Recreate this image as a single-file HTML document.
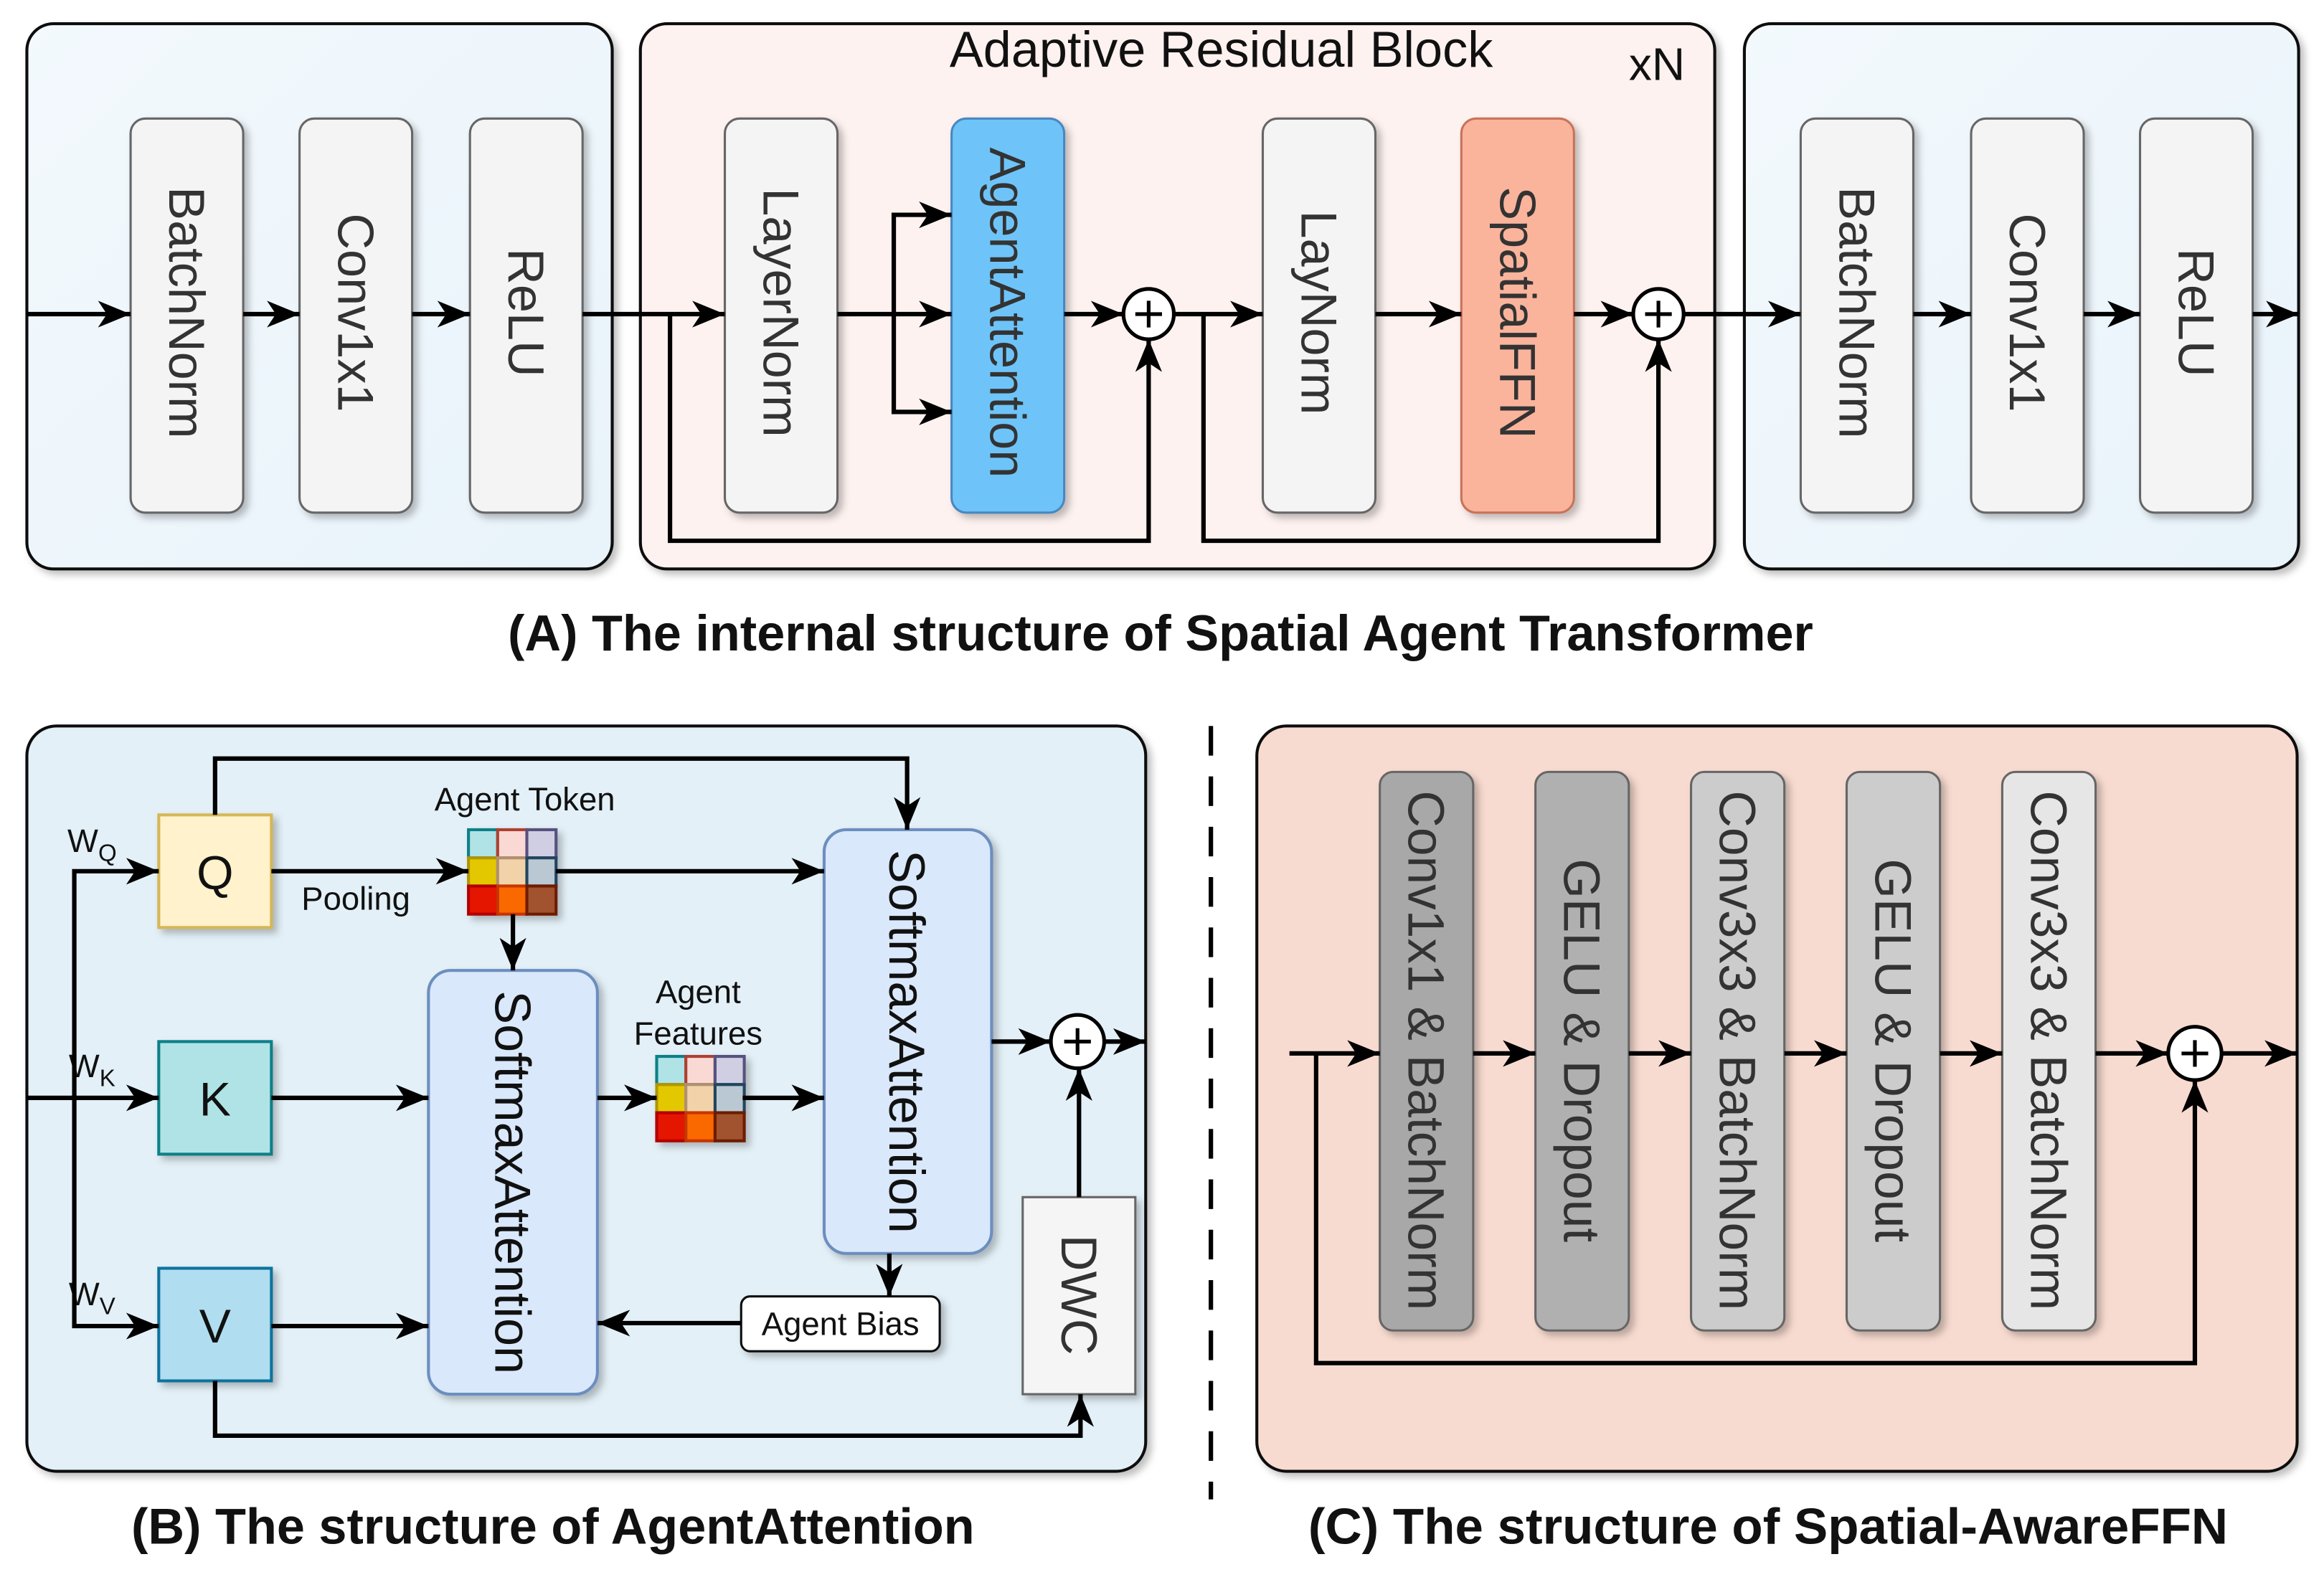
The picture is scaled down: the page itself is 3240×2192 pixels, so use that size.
<!DOCTYPE html>
<html><head><meta charset="utf-8"><style>
html,body{margin:0;padding:0;background:#fff}
svg{display:block}
text{font-family:"Liberation Sans",Arial,sans-serif}
</style></head><body>
<svg width="3240" height="2192" viewBox="0 0 1568 1061" xmlns="http://www.w3.org/2000/svg">
<defs>
<marker id="ar" markerWidth="24" markerHeight="20" refX="22" refY="10" orient="auto" markerUnits="userSpaceOnUse">
<path d="M0,1 L22,10 L0,19 L6,10 Z" fill="#000"/>
</marker>
<linearGradient id="gb" x1="0" y1="0" x2="1" y2="1"><stop offset="0" stop-color="#f3f9fd"/><stop offset="1" stop-color="#e8f3fa"/></linearGradient>
<filter id="sh" x="-20%" y="-20%" width="150%" height="150%"><feDropShadow dx="3" dy="3" stdDeviation="2.5" flood-color="#000" flood-opacity="0.25"/></filter>
</defs>
<g fill="none" stroke="#000" stroke-width="3">
<rect x="18" y="16" width="395" height="368" rx="18" fill="url(#gb)" stroke="#111" stroke-width="2" filter="url(#sh)"/>
<rect x="432" y="16" width="725" height="368" rx="18" fill="#fdf2ef" stroke="#111" stroke-width="2" filter="url(#sh)"/>
<rect x="1177" y="16" width="374" height="368" rx="18" fill="url(#gb)" stroke="#111" stroke-width="2" filter="url(#sh)"/>
<rect x="18" y="490" width="755" height="503" rx="20" fill="#e3f0f7" stroke="#111" stroke-width="2" filter="url(#sh)"/>
<rect x="848" y="490" width="702" height="503" rx="20" fill="#f8dbd0" stroke="#111" stroke-width="2" filter="url(#sh)"/>
<line x1="817" y1="490" x2="817" y2="1012" stroke-dasharray="20,14"/>
</g>
<g stroke="#666" stroke-width="1.5" filter="url(#sh)">
<rect x="88" y="80" width="76" height="266" rx="10" fill="#f4f4f4"/>
<rect x="202" y="80" width="76" height="266" rx="10" fill="#f4f4f4"/>
<rect x="317" y="80" width="76" height="266" rx="10" fill="#f4f4f4"/>
<rect x="489" y="80" width="76" height="266" rx="10" fill="#f4f4f4"/>
<rect x="642" y="80" width="76" height="266" rx="10" fill="#6ec4f8" stroke="#4a87c0"/>
<rect x="852" y="80" width="76" height="266" rx="10" fill="#f4f4f4"/>
<rect x="986" y="80" width="76" height="266" rx="10" fill="#fab49c" stroke="#c9725a"/>
<rect x="1215" y="80" width="76" height="266" rx="10" fill="#f4f4f4"/>
<rect x="1330" y="80" width="76" height="266" rx="10" fill="#f4f4f4"/>
<rect x="1444" y="80" width="76" height="266" rx="10" fill="#f4f4f4"/>
</g>
<g font-size="34" fill="#333" text-anchor="middle" dominant-baseline="central">
<text transform="translate(126,211) rotate(90)">BatchNorm</text>
<text transform="translate(240,211) rotate(90)">Conv1x1</text>
<text transform="translate(355,211) rotate(90)">ReLU</text>
<text transform="translate(527,211) rotate(90)">LayerNorm</text>
<text transform="translate(680,211) rotate(90)">AgentAttention</text>
<text transform="translate(890,211) rotate(90)">LayNorm</text>
<text transform="translate(1024,211) rotate(90)">SpatialFFN</text>
<text transform="translate(1253,211) rotate(90)">BatchNorm</text>
<text transform="translate(1368,211) rotate(90)">Conv1x1</text>
<text transform="translate(1482,211) rotate(90)">ReLU</text>
</g>
<text x="824" y="45" font-size="34" text-anchor="middle" fill="#111">Adaptive Residual Block</text>
<text x="1118" y="54" font-size="31" text-anchor="middle" fill="#111">xN</text>
<g fill="none" stroke="#000" stroke-width="3">
<line x1="18" y1="212" x2="88" y2="212" marker-end="url(#ar)"/>
<line x1="164" y1="212" x2="202" y2="212" marker-end="url(#ar)"/>
<line x1="278" y1="212" x2="317" y2="212" marker-end="url(#ar)"/>
<line x1="393" y1="212" x2="489" y2="212" marker-end="url(#ar)"/>
<line x1="565" y1="212" x2="642" y2="212" marker-end="url(#ar)"/>
<polyline points="603,212 603,145 642,145" marker-end="url(#ar)"/>
<polyline points="603,212 603,278 642,278" marker-end="url(#ar)"/>
<line x1="718" y1="212" x2="758" y2="212" marker-end="url(#ar)"/>
<line x1="792" y1="212" x2="852" y2="212" marker-end="url(#ar)"/>
<line x1="928" y1="212" x2="986" y2="212" marker-end="url(#ar)"/>
<line x1="1062" y1="212" x2="1102" y2="212" marker-end="url(#ar)"/>
<line x1="1136" y1="212" x2="1215" y2="212" marker-end="url(#ar)"/>
<line x1="1291" y1="212" x2="1330" y2="212" marker-end="url(#ar)"/>
<line x1="1406" y1="212" x2="1444" y2="212" marker-end="url(#ar)"/>
<line x1="1520" y1="212" x2="1551" y2="212" marker-end="url(#ar)"/>
<polyline points="452,212 452,365 775,365 775,229" marker-end="url(#ar)"/>
<polyline points="812,212 812,365 1119,365 1119,229" marker-end="url(#ar)"/>
</g>
<g stroke="#000" stroke-width="2.5" fill="#fff">
<circle cx="775" cy="212" r="17"/><circle cx="1119" cy="212" r="17"/>
<circle cx="727" cy="703" r="18"/><circle cx="1481" cy="711" r="18"/>
</g>
<g stroke="#000" stroke-width="2.5">
<path d="M766,212h18M775,203v18M1110,212h18M1119,203v18M718,703h18M727,694v18M1472,711h18M1481,702v18"/>
</g>
<text x="783" y="439" font-size="34" font-weight="bold" text-anchor="middle" fill="#111">(A) The internal structure of Spatial Agent Transformer</text>
<g filter="url(#sh)">
<rect x="107" y="550" width="76" height="76" fill="#fff2cc" stroke="#d6b656" stroke-width="2"/>
<rect x="107" y="703" width="76" height="76" fill="#b0e3e6" stroke="#0e8088" stroke-width="2"/>
<rect x="107" y="856" width="76" height="76" fill="#b1ddf0" stroke="#10739e" stroke-width="2"/>
<rect x="556" y="560" width="113" height="286" rx="15" fill="#dae8fc" stroke="#6c8ebf" stroke-width="2"/>
<rect x="289" y="655" width="114" height="286" rx="15" fill="#dae8fc" stroke="#6c8ebf" stroke-width="2"/>
<rect x="690" y="808" width="76" height="133" fill="#f5f5f5" stroke="#666" stroke-width="1.5"/>
<rect x="500" y="875" width="134" height="37" rx="6" fill="#fff" stroke="#111" stroke-width="1.5"/>
</g>
<g font-size="32" text-anchor="middle" fill="#111">
<text x="145" y="600">Q</text><text x="145" y="753">K</text><text x="145" y="906">V</text>
</g>
<g font-size="34" fill="#111" text-anchor="middle" dominant-baseline="central">
<text transform="translate(612,703) rotate(90)">SoftmaxAttention</text>
<text transform="translate(346,798) rotate(90)">SoftmaxAttention</text>
<text transform="translate(728,874) rotate(90)" fill="#333">DWC</text>
</g>
<g font-size="22" fill="#111" text-anchor="middle">
<text x="567" y="901">Agent Bias</text>
<text x="354" y="547">Agent Token</text>
<text x="240" y="614">Pooling</text>
<text x="471" y="677">Agent</text>
<text x="471" y="705">Features</text>
<text x="62" y="575">W<tspan font-size="16" dy="6">Q</tspan></text>
<text x="62" y="727">W<tspan font-size="16" dy="6">K</tspan></text>
<text x="62" y="881">W<tspan font-size="16" dy="6">V</tspan></text>
</g>
<g stroke-width="2">
<g transform="translate(316,560)" filter="url(#sh)">
<rect x="0" y="0" width="19.7" height="19" fill="#b0e3e6" stroke="#0e8088"/><rect x="19.7" y="0" width="19.7" height="19" fill="#fad9d5" stroke="#ae4132"/><rect x="39.4" y="0" width="19.7" height="19" fill="#d0cee2" stroke="#56517e"/>
<rect x="0" y="19" width="19.7" height="19" fill="#e3c800" stroke="#b09500"/><rect x="19.7" y="19" width="19.7" height="19" fill="#f2d3a9" stroke="#b09070"/><rect x="39.4" y="19" width="19.7" height="19" fill="#bac8d3" stroke="#23445d"/>
<rect x="0" y="38" width="19.7" height="19" fill="#e51400" stroke="#b20000"/><rect x="19.7" y="38" width="19.7" height="19" fill="#fa6800" stroke="#c73500"/><rect x="39.4" y="38" width="19.7" height="19" fill="#a0522d" stroke="#6d1f00"/>
</g>
<g transform="translate(443,713)" filter="url(#sh)">
<rect x="0" y="0" width="19.7" height="19" fill="#b0e3e6" stroke="#0e8088"/><rect x="19.7" y="0" width="19.7" height="19" fill="#fad9d5" stroke="#ae4132"/><rect x="39.4" y="0" width="19.7" height="19" fill="#d0cee2" stroke="#56517e"/>
<rect x="0" y="19" width="19.7" height="19" fill="#e3c800" stroke="#b09500"/><rect x="19.7" y="19" width="19.7" height="19" fill="#f2d3a9" stroke="#b09070"/><rect x="39.4" y="19" width="19.7" height="19" fill="#bac8d3" stroke="#23445d"/>
<rect x="0" y="38" width="19.7" height="19" fill="#e51400" stroke="#b20000"/><rect x="19.7" y="38" width="19.7" height="19" fill="#fa6800" stroke="#c73500"/><rect x="39.4" y="38" width="19.7" height="19" fill="#a0522d" stroke="#6d1f00"/>
</g>
</g>
<g fill="none" stroke="#000" stroke-width="3">
<line x1="18" y1="741" x2="107" y2="741" marker-end="url(#ar)"/>
<polyline points="50,741 50,588 107,588" marker-end="url(#ar)"/>
<polyline points="50,741 50,895 107,895" marker-end="url(#ar)"/>
<polyline points="145,550 145,512 612,512 612,560" marker-end="url(#ar)"/>
<line x1="183" y1="588" x2="316" y2="588" marker-end="url(#ar)"/>
<line x1="375" y1="588" x2="556" y2="588" marker-end="url(#ar)"/>
<line x1="346" y1="617" x2="346" y2="655" marker-end="url(#ar)"/>
<line x1="183" y1="741" x2="289" y2="741" marker-end="url(#ar)"/>
<line x1="403" y1="741" x2="443" y2="741" marker-end="url(#ar)"/>
<line x1="501" y1="741" x2="556" y2="741" marker-end="url(#ar)"/>
<line x1="183" y1="895" x2="289" y2="895" marker-end="url(#ar)"/>
<line x1="500" y1="893" x2="403" y2="893" marker-end="url(#ar)"/>
<line x1="600" y1="846" x2="600" y2="875" marker-end="url(#ar)"/>
<line x1="669" y1="703" x2="709" y2="703" marker-end="url(#ar)"/>
<line x1="745" y1="703" x2="773" y2="703" marker-end="url(#ar)"/>
<line x1="728" y1="808" x2="728" y2="721" marker-end="url(#ar)"/>
<polyline points="145,932 145,969 729,969 729,941" marker-end="url(#ar)"/>
</g>
<g stroke="#666" stroke-width="1.5" filter="url(#sh)">
<rect x="931" y="521" width="63" height="377" rx="9" fill="#a8a8a8"/>
<rect x="1036" y="521" width="63" height="377" rx="9" fill="#b0b0b0"/>
<rect x="1141" y="521" width="63" height="377" rx="9" fill="#cccccc"/>
<rect x="1246" y="521" width="63" height="377" rx="9" fill="#cccccc"/>
<rect x="1351" y="521" width="63" height="377" rx="9" fill="#e6e6e6"/>
</g>
<g font-size="34.5" fill="#333" text-anchor="middle" dominant-baseline="central">
<text transform="translate(962,709) rotate(90)">Conv1x1 &amp; BatchNorm</text>
<text transform="translate(1067,709) rotate(90)">GELU &amp; Dropout</text>
<text transform="translate(1172,709) rotate(90)">Conv3x3 &amp; BatchNorm</text>
<text transform="translate(1277,709) rotate(90)">GELU &amp; Dropout</text>
<text transform="translate(1382,709) rotate(90)">Conv3x3 &amp; BatchNorm</text>
</g>
<g fill="none" stroke="#000" stroke-width="3">
<line x1="870" y1="711" x2="931" y2="711" marker-end="url(#ar)"/>
<line x1="994" y1="711" x2="1036" y2="711" marker-end="url(#ar)"/>
<line x1="1099" y1="711" x2="1141" y2="711" marker-end="url(#ar)"/>
<line x1="1204" y1="711" x2="1246" y2="711" marker-end="url(#ar)"/>
<line x1="1309" y1="711" x2="1351" y2="711" marker-end="url(#ar)"/>
<line x1="1414" y1="711" x2="1463" y2="711" marker-end="url(#ar)"/>
<line x1="1499" y1="711" x2="1550" y2="711" marker-end="url(#ar)"/>
<polyline points="888,711 888,920 1481,920 1481,729" marker-end="url(#ar)"/>
</g>
<text x="373" y="1042" font-size="34" font-weight="bold" text-anchor="middle" fill="#111">(B) The structure of AgentAttention</text>
<text x="1193" y="1042" font-size="34.3" font-weight="bold" text-anchor="middle" fill="#111">(C) The structure of Spatial-AwareFFN</text>
</svg>
</body></html>
